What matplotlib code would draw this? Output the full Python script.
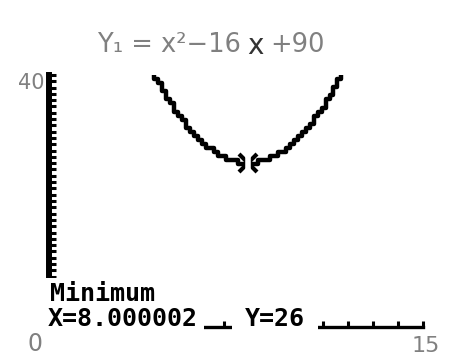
import numpy as np
import matplotlib
matplotlib.use("Agg")
import matplotlib.pyplot as plt
from matplotlib.ticker import MultipleLocator

# window settings
x_min, x_max = 0, 15
y_min, y_max = 0, 40
x_scl, y_scl = 1, 1

# the handwritten function Y1 = x^2 - 16x + 90
coeffs = [1, -16, 90]

# the minimum found by the calculator
min_x, min_y = 8.000002, 26

# calculator screen is 95 x 63 pixels
cols, rows = 95, 63

fig = plt.figure(figsize=(4.5, 3.64), dpi=100)
ax = fig.add_axes([49/450, 37/364, 374/450, 252/364])
ax.set_xlim(x_min, x_max)
ax.set_ylim(y_min, y_max)

# snap the curve to the screen pixels so it looks stair-stepped
dx = (x_max - x_min) / (cols - 1)
dy = (y_max - y_min) / (rows - 1)
xs = x_min + np.arange(cols) * dx
ys = np.polyval(coeffs, xs)
ys = np.round((ys - y_min) / dy) * dy + y_min
ax.plot(xs, ys, color='black', lw=3.2, drawstyle='steps-mid', solid_capstyle='butt')

# trace cursor at the minimum
ax.plot([min_x], [min_y], marker='x', ms=13, mew=3, color='black')
ax.plot([min_x], [min_y], marker='|', ms=16, mew=4, color='white')

# axes like the calculator draws them
for s in ['top', 'right']:
    ax.spines[s].set_visible(False)
ax.spines['left'].set_linewidth(4.3)
ax.spines['bottom'].set_linewidth(2.4)
ax.xaxis.set_major_locator(MultipleLocator(x_scl))
ax.yaxis.set_major_locator(MultipleLocator(y_scl))
ax.tick_params(axis='y', direction='in', length=5, width=2.2, labelleft=False)
ax.tick_params(axis='x', direction='in', length=4.5, width=2.2, labelbottom=False)

# calculator text over the graph
mono = dict(family='DejaVu Sans Mono', weight='bold', fontsize=18, color='black')
fig.text(50/450, 1 - 294/364, 'Minimum', va='center', ha='left', **mono,
         bbox=dict(boxstyle='square,pad=0.15', fc='white', ec='none'))
fig.text(48/450, 1 - 319/364, 'X=8.000002', va='center', ha='left', **mono,
         bbox=dict(boxstyle='square,pad=0.25', fc='white', ec='none'))
fig.text(245/450, 1 - 319/364, 'Y=26', va='center', ha='left', **mono,
         bbox=dict(boxstyle='square,pad=0.5', fc='white', ec='none'))

# handwriting on the printout
pen = dict(color='#808080', family='DejaVu Sans')
fig.text(97/450, 1 - 45/364, 'Y\u2081 = x\u00b2\u221216', fontsize=18.5, va='center', ha='left', **pen)
fig.text(247/450, 1 - 46/364, 'x', fontsize=20, va='center', ha='left',
         color='#333333', family='DejaVu Sans')
fig.text(270/450, 1 - 45/364, '+90', fontsize=18.5, va='center', ha='left', **pen)
fig.text(31/450, 1 - 83/364, '40', fontsize=15, va='center', ha='center', **pen)
fig.text(35/450, 1 - 344/364, '0', fontsize=17, va='center', ha='center', **pen)
fig.text(426/450, 1 - 346/364, '15', fontsize=16, va='center', ha='center', **pen)

fig.savefig('out.png', dpi=100)
